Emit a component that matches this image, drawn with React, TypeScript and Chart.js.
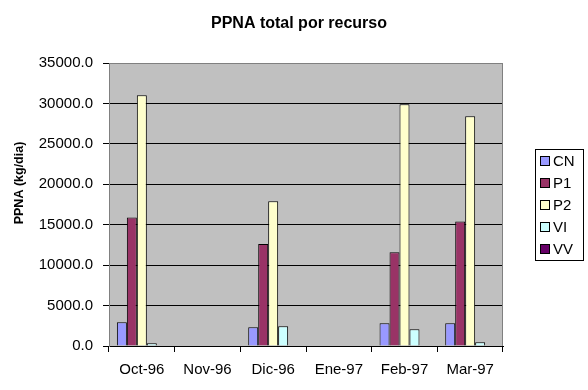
import React, { useEffect, useRef } from "react";
import { Chart, registerables } from "chart.js";

Chart.register(...registerables);

const categories = ["Oct-96", "Nov-96", "Dic-96", "Ene-97", "Feb-97", "Mar-97"];
const seriesNames = ["CN", "P1", "P2", "VI", "VV"];
const cnValues = [2930, null, 2310, null, 2800, 2800];
const p1Values = [15900, null, 12600, null, 11600, 15400];
const p2Values = [31000, null, 17900, null, 29900, 28400];
const viValues = [330, null, 2440, null, 2060, 450];
const vvValues = [null, null, null, null, null, null];
const seriesColors = ["#9999FF", "#993366", "#FFFFCC", "#CCFFFF", "#660066"];
const yTicks = [0, 5000, 10000, 15000, 20000, 25000, 30000, 35000];

const chartTitle = "PPNA total por recurso";
const yTitle = "PPNA (kg/dia)";
const FONT = "'Liberation Sans', Arial, sans-serif";

const decorPlugin = {
  id: "decor",
  beforeDraw(chart: any) {
    const { ctx, chartArea } = chart;
    ctx.save();
    ctx.fillStyle = "#fff";
    ctx.fillRect(0, 0, chart.width, chart.height);
    ctx.fillStyle = "#C0C0C0";
    ctx.fillRect(chartArea.left, chartArea.top, chartArea.right - chartArea.left, chartArea.bottom - chartArea.top);
    ctx.restore();
  },
  afterDraw(chart: any) {
    const { ctx, chartArea } = chart;
    ctx.save();
    // right plot border
    ctx.strokeStyle = "#808080";
    ctx.lineWidth = 1;
    ctx.beginPath();
    ctx.moveTo(Math.round(chartArea.right) - 0.5, chartArea.top);
    ctx.lineTo(Math.round(chartArea.right) - 0.5, chartArea.bottom);
    ctx.stroke();
    // title
    ctx.fillStyle = "#000";
    ctx.font = `bold 16px ${FONT}`;
    ctx.textAlign = "center";
    ctx.textBaseline = "middle";
    ctx.fillText(chartTitle, 299, 24);
    // y title
    ctx.save();
    ctx.translate(20, 183);
    ctx.rotate(-Math.PI / 2);
    ctx.font = `bold 12.5px ${FONT}`;
    ctx.fillText(yTitle, 0, 0);
    ctx.restore();
    // legend
    const lx = 535.5, ly = 149.5, lw = 48, lh = 111;
    ctx.strokeStyle = "#000";
    ctx.strokeRect(lx, ly, lw, lh);
    ctx.font = `15px ${FONT}`;
    ctx.textAlign = "left";
    seriesNames.forEach((name, i) => {
      const cy = 161 + i * 22;
      ctx.fillStyle = seriesColors[i];
      ctx.fillRect(540, cy - 5, 10, 10);
      ctx.strokeStyle = "#000";
      ctx.strokeRect(540.5, cy - 4.5, 9, 9);
      ctx.fillStyle = "#000";
      ctx.fillText(name, 553, cy + 0.5);
    });
    ctx.restore();
  },
};

export default function App() {
  const ref = useRef<HTMLCanvasElement>(null);
  useEffect(() => {
    if (!ref.current) return;
    const values = [cnValues, p1Values, p2Values, viValues, vvValues];
    const chart = new Chart(ref.current, {
      type: "bar",
      data: {
        labels: categories,
        datasets: seriesNames.map((name, i) => ({
          label: name,
          data: values[i],
          backgroundColor: seriesColors[i],
          borderColor: "#000",
          borderWidth: 1,
          categoryPercentage: 0.76,
          barPercentage: 1,
        })),
      },
      options: {
        animation: false,
        responsive: false,
        devicePixelRatio: 1,
        layout: { padding: { top: 63, right: 85, bottom: 0, left: 0 } },
        plugins: {
          legend: { display: false },
          title: { display: false },
          tooltip: { enabled: false },
        },
        scales: {
          x: {
            offset: true,
            afterFit: (s: any) => { s.height = 44; },
            grid: {
              offset: true,
              drawOnChartArea: false,
              drawTicks: true,
              tickLength: 6,
              tickColor: "#000",
              color: "#000",
            },
            border: { color: "#000", width: 1 },
            ticks: { color: "#000", font: { family: FONT, size: 15 }, padding: 9, maxRotation: 0, autoSkip: false },
          },
          y: {
            min: 0,
            max: 35000,
            afterFit: (s: any) => { s.width = 109; },
            afterBuildTicks: (s: any) => { s.ticks = yTicks.map((v) => ({ value: v })); },
            grid: {
              color: (c: any) => (c.tick && c.tick.value === 35000 ? "#808080" : "#000"),
              tickColor: "#000",
              tickLength: 6,
              lineWidth: 1,
            },
            border: { color: "#808080", width: 1 },
            ticks: {
              color: "#000",
              font: { family: FONT, size: 15 },
              padding: 10,
              callback: (v: any) => Number(v).toFixed(1),
            },
          },
        },
      },
      plugins: [decorPlugin],
    });
    return () => chart.destroy();
  }, []);
  return (
    <div style={{ position: "absolute", left: 0, top: 0, width: 588, height: 390 }}>
      <canvas ref={ref} width={588} height={390} style={{ display: "block", width: 588, height: 390 }} />
    </div>
  );
}
